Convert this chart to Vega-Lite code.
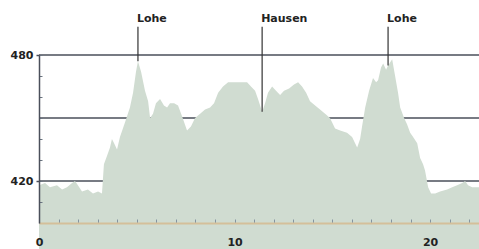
{
  "$schema": "https://vega.github.io/schema/vega-lite/v6.json",
  "width": 440,
  "height": 168,
  "autosize": {"type": "none"},
  "padding": {"left": 39, "top": 55, "right": 0, "bottom": 26},
  "background": "white",
  "config": {"view": {"stroke": null}},
  "resolve": {"axis": {"x": "independent", "y": "independent"}},
  "datasets": {
    "profile": [
      {"km": 0.0, "elev": 418}, {"km": 0.31, "elev": 419}, {"km": 0.56, "elev": 417}, {"km": 0.92, "elev": 418},
      {"km": 1.18, "elev": 416}, {"km": 1.43, "elev": 417}, {"km": 1.69, "elev": 419}, {"km": 1.84, "elev": 420},
      {"km": 1.99, "elev": 418}, {"km": 2.2, "elev": 415}, {"km": 2.5, "elev": 416}, {"km": 2.76, "elev": 414},
      {"km": 3.02, "elev": 415}, {"km": 3.22, "elev": 414}, {"km": 3.32, "elev": 428}, {"km": 3.48, "elev": 432},
      {"km": 3.63, "elev": 436}, {"km": 3.73, "elev": 440}, {"km": 3.84, "elev": 438}, {"km": 3.99, "elev": 435},
      {"km": 4.14, "elev": 441}, {"km": 4.4, "elev": 448}, {"km": 4.65, "elev": 455}, {"km": 4.81, "elev": 462},
      {"km": 4.96, "elev": 472}, {"km": 5.06, "elev": 477}, {"km": 5.22, "elev": 472}, {"km": 5.42, "elev": 463},
      {"km": 5.58, "elev": 458}, {"km": 5.68, "elev": 450}, {"km": 5.83, "elev": 452}, {"km": 5.98, "elev": 457},
      {"km": 6.19, "elev": 459}, {"km": 6.39, "elev": 456}, {"km": 6.55, "elev": 455}, {"km": 6.7, "elev": 457},
      {"km": 6.91, "elev": 457}, {"km": 7.11, "elev": 456}, {"km": 7.31, "elev": 451}, {"km": 7.57, "elev": 444},
      {"km": 7.77, "elev": 446}, {"km": 7.98, "elev": 450}, {"km": 8.24, "elev": 452}, {"km": 8.49, "elev": 454},
      {"km": 8.75, "elev": 455}, {"km": 8.95, "elev": 457}, {"km": 9.16, "elev": 462}, {"km": 9.41, "elev": 465},
      {"km": 9.67, "elev": 467}, {"km": 10.03, "elev": 467}, {"km": 10.38, "elev": 467}, {"km": 10.64, "elev": 467},
      {"km": 10.84, "elev": 465}, {"km": 11.05, "elev": 463}, {"km": 11.2, "elev": 459}, {"km": 11.41, "elev": 453},
      {"km": 11.56, "elev": 457}, {"km": 11.71, "elev": 462}, {"km": 11.92, "elev": 465}, {"km": 12.12, "elev": 463},
      {"km": 12.33, "elev": 461}, {"km": 12.53, "elev": 463}, {"km": 12.79, "elev": 464}, {"km": 13.04, "elev": 466},
      {"km": 13.25, "elev": 467}, {"km": 13.45, "elev": 465}, {"km": 13.66, "elev": 462}, {"km": 13.86, "elev": 458},
      {"km": 14.12, "elev": 456}, {"km": 14.37, "elev": 454}, {"km": 14.63, "elev": 452}, {"km": 14.88, "elev": 450},
      {"km": 15.14, "elev": 445}, {"km": 15.4, "elev": 444}, {"km": 15.75, "elev": 443}, {"km": 16.01, "elev": 441},
      {"km": 16.27, "elev": 436}, {"km": 16.42, "elev": 440}, {"km": 16.52, "elev": 446}, {"km": 16.68, "elev": 455},
      {"km": 16.88, "elev": 463}, {"km": 17.08, "elev": 469}, {"km": 17.24, "elev": 467}, {"km": 17.34, "elev": 468},
      {"km": 17.49, "elev": 474}, {"km": 17.6, "elev": 476}, {"km": 17.75, "elev": 473}, {"km": 17.85, "elev": 475},
      {"km": 18.06, "elev": 478}, {"km": 18.21, "elev": 470}, {"km": 18.36, "elev": 462}, {"km": 18.47, "elev": 455},
      {"km": 18.67, "elev": 450}, {"km": 18.82, "elev": 447}, {"km": 18.98, "elev": 443}, {"km": 19.13, "elev": 441},
      {"km": 19.34, "elev": 438}, {"km": 19.49, "elev": 431}, {"km": 19.64, "elev": 428}, {"km": 19.74, "elev": 425},
      {"km": 19.9, "elev": 417}, {"km": 20.05, "elev": 414}, {"km": 20.26, "elev": 414}, {"km": 20.51, "elev": 415},
      {"km": 20.87, "elev": 416}, {"km": 21.13, "elev": 417}, {"km": 21.38, "elev": 418}, {"km": 21.64, "elev": 419},
      {"km": 21.79, "elev": 420}, {"km": 21.94, "elev": 418}, {"km": 22.15, "elev": 417}, {"km": 22.5, "elev": 417}
    ],
    "places": [
      {"km": 5.06, "elev": 477, "name": "Lohe"},
      {"km": 11.41, "elev": 453, "name": "Hausen"},
      {"km": 17.85, "elev": 475, "name": "Lohe"}
    ],
    "grid": [{"v": 420}, {"v": 450}, {"v": 480}]
  },
  "layer": [
    {
      "data": {"name": "grid"},
      "mark": {"type": "rule", "color": "#4a4f5a", "strokeWidth": 1.5},
      "encoding": {
        "y": {"field": "v", "type": "quantitative", "axis": null, "scale": {"domain": [400, 480], "nice": false, "zero": false}}
      }
    },
    {
      "data": {"name": "profile"},
      "mark": {"type": "area", "color": "#d0dcd1", "opacity": 1},
      "encoding": {
        "x": {
          "field": "km", "type": "quantitative",
          "scale": {"domain": [0, 22.5], "nice": false, "zero": false},
          "axis": {
            "title": null, "zindex": 1, "orient": "bottom",
            "values": [0,1,2,3,4,5,6,7,8,9,10,11,12,13,14,15,16,17,18,19,20,21,22],
            "labels": false, "grid": false,
            "domainColor": "#d4bf9a", "domainWidth": 2,
            "tickColor": "#8494a0", "tickSize": -4, "tickWidth": 1
          }
        },
        "y": {
          "field": "elev", "type": "quantitative",
          "scale": {"domain": [400, 480], "nice": false, "zero": false},
          "axis": {
            "title": null, "zindex": 1, "orient": "left",
            "values": [410, 420, 430, 440, 450, 460, 470, 480],
            "labels": false, "grid": false,
            "domainColor": "#4a4f5a", "domainWidth": 1.5,
            "tickColor": "#6a7480", "tickSize": -3, "tickWidth": 1
          }
        }
      }
    },
    {
      "data": {"name": "places"},
      "mark": {"type": "rule", "color": "#333333", "strokeWidth": 1.2},
      "encoding": {
        "x": {
          "field": "km", "type": "quantitative",
          "axis": {
            "title": null, "zindex": 1, "orient": "bottom", "values": [0, 10, 20],
            "domain": false, "ticks": false, "grid": false,
            "labelOverlap": false, "labelFlush": false,
            "labelFont": "DejaVu Sans", "labelFontWeight": "bold", "labelFontSize": 11,
            "labelColor": "#222222", "labelPadding": 13
          }
        },
        "y": {
          "field": "elev", "type": "quantitative",
          "axis": {
            "title": null, "zindex": 1, "orient": "left", "values": [420, 480],
            "domain": false, "ticks": true, "tickSize": 3, "tickColor": "#4a4f5a", "tickWidth": 1.5, "grid": false,
            "labelOverlap": false, "labelFlush": false,
            "labelFont": "DejaVu Sans", "labelFontWeight": "bold", "labelFontSize": 11,
            "labelColor": "#222222", "labelPadding": 3
          }
        },
        "y2": {"datum": 493.5}
      }
    },
    {
      "data": {"name": "places"},
      "mark": {"type": "text", "align": "left", "baseline": "alphabetic", "dx": -1, "font": "DejaVu Sans", "fontWeight": "bold", "fontSize": 11, "color": "#222222"},
      "encoding": {
        "x": {"field": "km", "type": "quantitative", "axis": null},
        "y": {"datum": 495.6, "axis": null},
        "text": {"field": "name"}
      }
    }
  ]
}
